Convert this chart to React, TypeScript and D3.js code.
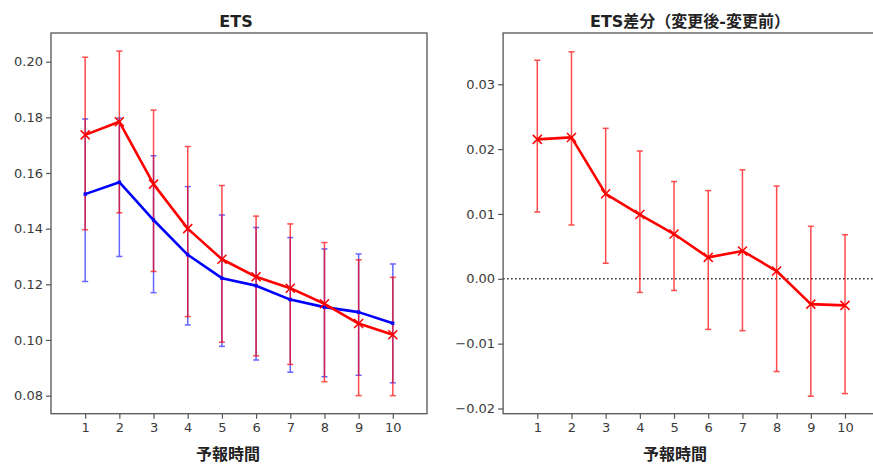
import React, { useEffect, useRef } from "react";
import * as d3 from "d3";

const hours = [1, 2, 3, 4, 5, 6, 7, 8, 9, 10];

// left panel: ETS
const redMean = [0.1737, 0.1784, 0.156, 0.1400, 0.129, 0.1227, 0.1186, 0.113, 0.1059, 0.1019];
const redHigh = [0.2016, 0.2038, 0.1826, 0.1695, 0.1555, 0.1445, 0.1417, 0.135, 0.1288, 0.1225];
const redLow = [0.1396, 0.1457, 0.1246, 0.1084, 0.0992, 0.0943, 0.0912, 0.085, 0.08, 0.08];

const blueMean = [0.1524, 0.1567, 0.1431, 0.1306, 0.1222, 0.1195, 0.1145, 0.1118, 0.11, 0.106];
const blueHigh = [0.1794, 0.1797, 0.1662, 0.1551, 0.1449, 0.1404, 0.1368, 0.1327, 0.1309, 0.1273];
const blueLow = [0.121, 0.13, 0.117, 0.1054, 0.0977, 0.0928, 0.0884, 0.0868, 0.0873, 0.0846];

// right panel: difference
const diffMean = [0.0215, 0.0218, 0.0131, 0.0099, 0.0069, 0.0033, 0.0043, 0.0012, -0.0039, -0.0041];
const diffHigh = [0.0337, 0.035, 0.0232, 0.0197, 0.015, 0.0136, 0.0168, 0.0143, 0.0081, 0.0068];
const diffLow = [0.0103, 0.0083, 0.0024, -0.0021, -0.0018, -0.0078, -0.008, -0.0143, -0.0181, -0.0177];

const leftTicks = [0.08, 0.1, 0.12, 0.14, 0.16, 0.18, 0.2];
const rightTicks = [-0.02, -0.01, 0, 0.01, 0.02, 0.03];

const FONT = "DejaVu Sans, 'Noto Sans CJK JP', sans-serif";

const App = () => {
  const svgRef = useRef<SVGSVGElement>(null);

  useEffect(() => {
    const width = 873, height = 464;
    const svg = d3.select(svgRef.current)
      .attr("width", width)
      .attr("height", height);
    svg.selectAll("*").remove();

    const top = 33, bottom = 413.7;

    const drawPanel = (left, right, yDomain, yTicks, fmt, series, title, titleX, labelX, zeroLine) => {
      const x = d3.scaleLinear().domain([0, 11]).range([left, right]);
      const y = d3.scaleLinear().domain(yDomain).range([bottom, top]);
      const g = svg.append("g");

      if (zeroLine) {
        g.append("line")
          .attr("x1", left).attr("x2", right)
          .attr("y1", y(0)).attr("y2", y(0))
          .attr("stroke", "#222")
          .attr("stroke-width", 1.5)
          .attr("stroke-dasharray", "1.5,2.5");
      }

      series.forEach(s => {
        // error bars
        const eb = g.append("g").attr("opacity", s.alpha);
        hours.forEach((h, i) => {
          eb.append("line")
            .attr("x1", x(h)).attr("x2", x(h))
            .attr("y1", y(s.low[i])).attr("y2", y(s.high[i]))
            .attr("stroke", s.color).attr("stroke-width", 1.5);
          [s.low[i], s.high[i]].forEach(v => {
            eb.append("line")
              .attr("x1", x(h) - 3).attr("x2", x(h) + 3)
              .attr("y1", y(v)).attr("y2", y(v))
              .attr("stroke", s.color).attr("stroke-width", 1.5);
          });
        });
      });

      series.forEach(s => {
        const line = d3.line<number>().x((d, i) => x(hours[i])).y(d => y(d));
        g.append("path")
          .datum(s.mean)
          .attr("d", line)
          .attr("fill", "none")
          .attr("stroke", s.color)
          .attr("stroke-width", 2.6)
          .attr("stroke-linejoin", "round");
        s.mean.forEach((v, i) => {
          const cx = x(hours[i]), cy = y(v), r = s.marker;
          g.append("path")
            .attr("d", `M${cx - r},${cy - r}L${cx + r},${cy + r}M${cx - r},${cy + r}L${cx + r},${cy - r}`)
            .attr("stroke", s.color)
            .attr("stroke-width", 1.5);
        });
      });

      // frame
      g.append("rect")
        .attr("x", left).attr("y", top)
        .attr("width", right - left).attr("height", bottom - top)
        .attr("fill", "none")
        .attr("stroke", "#555")
        .attr("stroke-width", 1.3);

      const yAxis = g.append("g")
        .attr("transform", `translate(${left},0)`)
        .call(d3.axisLeft(y).tickValues(yTicks).tickFormat(fmt).tickSizeOuter(0).tickSize(5).tickPadding(3));
      yAxis.select(".domain").remove();

      const xAxis = g.append("g")
        .attr("transform", `translate(0,${bottom})`)
        .call(d3.axisBottom(x).tickValues(hours).tickFormat(d3.format("d")).tickSizeOuter(0).tickSize(5).tickPadding(4));
      xAxis.select(".domain").remove();

      g.selectAll(".tick line").attr("stroke", "#555").attr("stroke-width", 1.2);
      g.selectAll(".tick text")
        .attr("fill", "#3a3a3a")
        .style("font-family", FONT)
        .style("font-size", "13px");

      g.append("text")
        .attr("x", titleX)
        .attr("y", 27)
        .attr("text-anchor", "middle")
        .style("font-family", FONT)
        .style("font-weight", "bold")
        .style("font-size", "16px")
        .attr("fill", "#222")
        .text(title);

      g.append("text")
        .attr("x", labelX)
        .attr("y", 460)
        .attr("text-anchor", "middle")
        .style("font-family", "'Noto Sans CJK JP', sans-serif")
        .style("font-weight", "bold")
        .style("font-size", "16px")
        .attr("fill", "#222")
        .text("予報時間");
    };

    const fmt2 = (d: number) => d3.format(".2f")(d).replace("-", "\u2212");

    drawPanel(51, 427, [0.0735, 0.2103], leftTicks, fmt2, [
      { mean: blueMean, high: blueHigh, low: blueLow, color: "#0000ff", marker: 1.5, alpha: 0.6 },
      { mean: redMean, high: redHigh, low: redLow, color: "#ff0000", marker: 4.5, alpha: 0.7 }
    ], "ETS", 236, 228, false);

    drawPanel(503.1, 879.2, [-0.0208, 0.0379], rightTicks, fmt2, [
      { mean: diffMean, high: diffHigh, low: diffLow, color: "#ff0000", marker: 4.5, alpha: 0.7 }
    ], "ETS差分（変更後-変更前）", 690, 675, true);
  }, []);

  return (
    <div style={{ position: "absolute", left: 0, top: 0, background: "#fff" }}>
      <svg ref={svgRef} style={{ display: "block" }}></svg>
    </div>
  );
};

export default App;
